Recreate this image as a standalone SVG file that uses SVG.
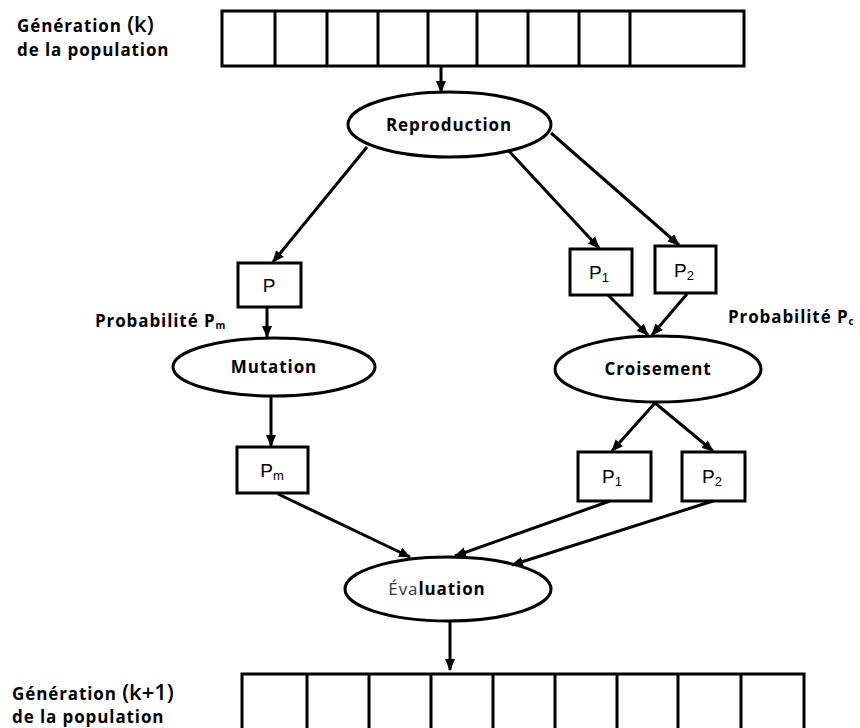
<svg xmlns="http://www.w3.org/2000/svg" width="860" height="728" viewBox="0 0 860 728">
<defs>
<marker id="ah" markerUnits="userSpaceOnUse" markerWidth="12" markerHeight="12" viewBox="0 0 12 12" refX="11" refY="6" orient="auto">
<path d="M0,1 L12,6 L0,11 Z" fill="#000"/>
</marker>
</defs>
<style>
.b{fill:#fff;stroke:#000;stroke-width:3}
.e{fill:#fff;stroke:#000;stroke-width:3}
.c line{stroke:#000;stroke-width:3;marker-end:url(#ah)}
.t{font-family:"Open Sans","DejaVu Sans",sans-serif;font-weight:bold;font-size:17px;letter-spacing:0.9px;fill:#000}
.m{text-anchor:middle}
.n{font-family:"Liberation Sans",Arial,sans-serif;font-weight:normal;font-size:19px;fill:#000}
.d{stroke:#000;stroke-width:3}
</style>
<g id="label-top">
<text class="t" x="17" y="32">Génération <tspan font-size="22" font-weight="600" letter-spacing="0">(k)</tspan></text>
<text class="t" x="17" y="56">de la population</text>
</g>
<g id="array-top">
<rect class="b" x="222" y="11" width="522" height="55"/>
<path class="d" d="M275,11V66M327,11V66M378,11V66M428,11V66M477,11V66M528,11V66M579,11V66M630,11V66"/>
</g>
<g id="reproduction">
<ellipse class="e" cx="449.5" cy="124.5" rx="101.5" ry="32.5"/>
<text class="t m" x="449" y="131">Reproduction</text>
</g>
<g id="p">
<rect class="b" x="238" y="263" width="63" height="44"/>
<text class="m n" x="269" y="292">P</text>
</g>
<g id="p1-top">
<rect class="b" x="570" y="249" width="62" height="46"/>
<text class="m n" x="599" y="279">P<tspan font-size="13" dy="3">1</tspan></text>
</g>
<g id="p2-top">
<rect class="b" x="655" y="246" width="61" height="47"/>
<text class="m n" x="684" y="277">P<tspan font-size="13" dy="3">2</tspan></text>
</g>
<g id="label-pm">
<text class="t" x="95" y="327" font-size="15">Probabilité P<tspan font-size="10" dy="2">m</tspan></text>
</g>
<g id="label-pc">
<text class="t" x="728" y="323" font-size="15">Probabilité P<tspan font-size="10" dy="2">c</tspan></text>
</g>
<g id="mutation">
<ellipse class="e" cx="274" cy="367" rx="101" ry="29"/>
<text class="t m" x="274" y="373">Mutation</text>
</g>
<g id="croisement">
<ellipse class="e" cx="658" cy="369" rx="103" ry="33"/>
<text class="t m" x="658" y="375">Croisement</text>
</g>
<g id="pm">
<rect class="b" x="237" y="447" width="71" height="46"/>
<text class="m n" x="272" y="477">P<tspan font-size="13" dy="3">m</tspan></text>
</g>
<g id="p1-bottom">
<rect class="b" x="578" y="452" width="73" height="49"/>
<text class="m n" x="612" y="483">P<tspan font-size="13" dy="3">1</tspan></text>
</g>
<g id="p2-bottom">
<rect class="b" x="682" y="452" width="63" height="49"/>
<text class="m n" x="712" y="483">P<tspan font-size="13" dy="3">2</tspan></text>
</g>
<g id="evaluation">
<ellipse class="e" cx="448" cy="589" rx="103" ry="32"/>
<text class="t m" x="437" y="595"><tspan font-weight="normal" fill="#333">Éva</tspan>luation</text>
</g>
<g id="label-bottom">
<text class="t" x="12" y="700">Génération <tspan font-size="22" font-weight="600" letter-spacing="0">(k+1)</tspan></text>
<text class="t" x="12" y="723">de la population</text>
</g>
<g id="array-bottom">
<rect class="b" x="242" y="674" width="562" height="60"/>
<path class="d" d="M307,674V728M369,674V728M431,674V728M493,674V728M555,674V728M617,674V728M678,674V728M741,674V728"/>
</g>
<g id="connectors" class="c">
<line x1="441" y1="66" x2="441" y2="92"/>
<line x1="367" y1="147" x2="273" y2="262"/>
<line x1="508" y1="150" x2="599" y2="248"/>
<line x1="551" y1="133" x2="679" y2="245"/>
<line x1="267" y1="307" x2="267" y2="337"/>
<line x1="608" y1="295" x2="648" y2="335"/>
<line x1="687" y1="294" x2="652" y2="335"/>
<line x1="271" y1="396" x2="271" y2="446"/>
<line x1="655" y1="403" x2="612" y2="451"/>
<line x1="655" y1="403" x2="713" y2="451"/>
<line x1="278" y1="494" x2="410" y2="557"/>
<line x1="610" y1="501" x2="455" y2="556"/>
<line x1="713" y1="501" x2="512" y2="565"/>
<line x1="450" y1="622" x2="450" y2="670"/>
</g>
</svg>
